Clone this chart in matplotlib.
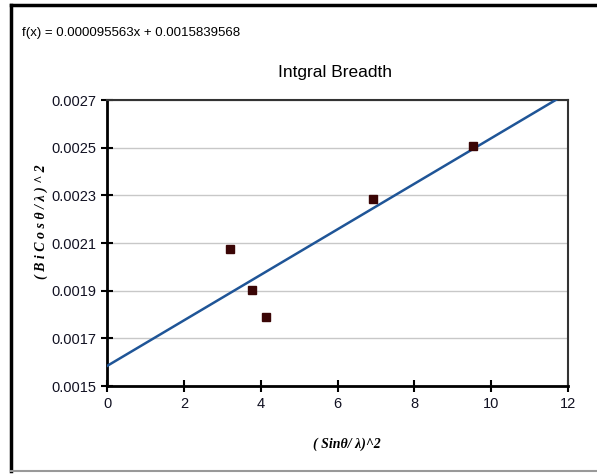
import matplotlib
matplotlib.use("Agg")
import matplotlib.pyplot as plt
from matplotlib.lines import Line2D
import numpy as np

x_vals = [3.20, 3.78, 4.14, 6.93, 9.53]
y_vals = [0.002073, 0.001904, 0.001790, 0.002283, 0.002506]
slope = 0.000095563
intercept = 0.0015839568
x_ticks = [0, 2, 4, 6, 8, 10, 12]
y_ticks = [0.0015, 0.0017, 0.0019, 0.0021, 0.0023, 0.0025, 0.0027]

fig = plt.figure(figsize=(5.97, 4.74), dpi=100)
ax = fig.add_axes([107/597, 1-386/474, (568-107)/597, (386-100)/474])

line_x = np.array([0, 12])
ax.plot(line_x, slope*line_x + intercept, color='#1f5597', lw=1.8, zorder=3)
ax.plot(x_vals, y_vals, 's', color='#3a0505', markersize=6, zorder=4)

ax.set_xlim(0, 12)
ax.set_ylim(0.0015, 0.0027)
ax.set_xticks(x_ticks)
ax.set_yticks(y_ticks)
ax.set_xticklabels([str(t) for t in x_ticks], family='Liberation Sans', fontsize=10.5, color='#111122')
ax.set_yticklabels([f"{t:.4f}" for t in y_ticks], family='Liberation Sans', fontsize=10.5, color='#111122')
ax.yaxis.grid(True, color='#c8c8c8', lw=1)
ax.set_axisbelow(True)
ax.tick_params(direction='inout', length=8, width=1.5, pad=4)
for s in ['left', 'bottom']:
    ax.spines[s].set_linewidth(2)
    ax.spines[s].set_color('black')
for s in ['top', 'right']:
    ax.spines[s].set_linewidth(1.5)
    ax.spines[s].set_color('#333333')

ax.set_xlabel('( Sinθ/ λ)^2', family='Liberation Serif',
              fontweight='bold', fontstyle='italic', fontsize=10)
ax.set_ylabel('( B i C o s θ / λ ) ^ 2', family='Liberation Serif',
              fontweight='bold', fontstyle='italic', fontsize=10)
ax.xaxis.set_label_coords(0.52, -0.18)
ax.yaxis.set_label_coords(-0.128, 0.573)

fig.text(335/597, 1-72/474, 'Intgral Breadth', family='Liberation Sans', fontsize=12.5, ha='center', va='center')
fig.text(22/597, 1-33/474, 'f(x) = 0.000095563x + 0.0015839568', family='Liberation Sans', fontsize=9.5,
         ha='left', va='center')

# outer frame
fig.add_artist(Line2D([11/597, 11/597], [1-471/474, 1-5/474], color='black', lw=2.5, transform=fig.transFigure))
fig.add_artist(Line2D([11/597, 1], [1-5/474, 1-5/474], color='black', lw=2.5, transform=fig.transFigure))
fig.add_artist(Line2D([11/597, 1], [1-471/474, 1-471/474], color='#999999', lw=1.5, transform=fig.transFigure))

fig.savefig('out.png', dpi=100)
